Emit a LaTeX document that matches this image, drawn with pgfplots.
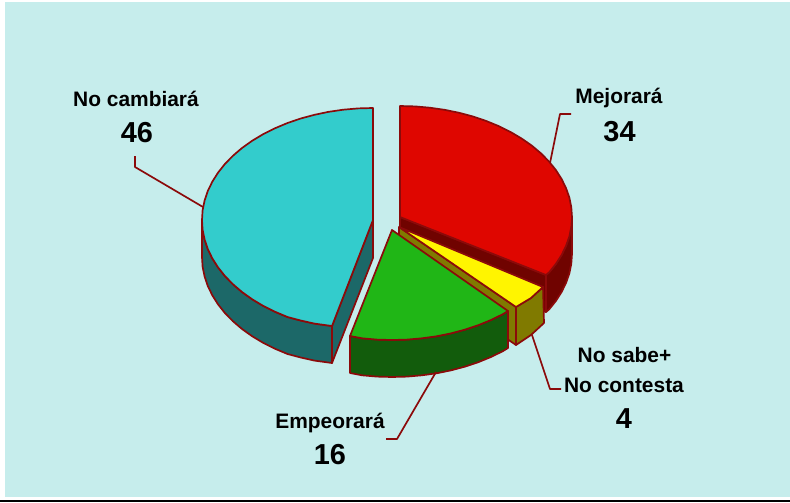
\documentclass[border=0pt]{standalone}
\usepackage{fontspec}
\usepackage{pgfplots}
\pgfplotsset{compat=1.18}
\setmainfont{Liberation Sans}
\definecolor{bg}{HTML}{C6EDEC}
\definecolor{edge}{HTML}{8B0A0A}
\definecolor{cyantop}{HTML}{33CCCC}
\definecolor{cyandark}{HTML}{1C6868}
\definecolor{redtop}{HTML}{DF0600}
\definecolor{reddark}{HTML}{700300}
\definecolor{greentop}{HTML}{20B616}
\definecolor{greendark}{HTML}{125C0C}
\definecolor{yellowtop}{HTML}{FFF500}
\definecolor{olivedark}{HTML}{807A00}
\newcommand{\lab}[1]{{\fontsize{21}{24}\selectfont\bfseries #1}}
\newcommand{\num}[1]{{\fontsize{29}{32}\selectfont\bfseries #1}}
\begin{document}
\begin{tikzpicture}
\begin{axis}[at={(0,0)},anchor=south west,scale only axis,width=790bp,height=502bp,
  xmin=0,xmax=790,ymin=0,ymax=502,y dir=reverse,hide axis,clip=false,
  every axis plot/.append style={line join=round,line width=1.7pt}]
% page
\addplot[fill=white,draw=none] coordinates {(0,0)(790,0)(790,502)(0,502)} -- cycle;
\addplot[fill=bg,draw=none] coordinates {(5,2.5)(790,2.5)(790,497)(5,497)} -- cycle;
\addplot[fill=black,draw=none] coordinates {(0,500)(790,500)(790,502)(0,502)} -- cycle;
% No cambiara: 46
\addplot[fill=cyandark,draw=edge] coordinates {(202,220)(202.6,229.8)(204.6,239.5)(207.8,249)(212.3,258.3)(218,267.3)(224.9,276)(232.9,284.2)(242,292)(252.1,299.2)(263.1,305.8)(274.9,311.7)(287.5,317)(300.7,320.5)(314.5,323.6)(332,326)
  (332,363)(314.5,360.6)(300.7,357.5)(287.5,354)(274.9,348.7)(263.1,342.8)(252.1,336.2)(242,329)(232.9,321.2)(224.9,313)(218,304.3)(212.3,295.3)(207.8,286)(204.6,276.5)(202.6,266.8)(202,257)} -- cycle;
\addplot[fill=cyandark,draw=edge] coordinates {(373,220)(332,326)(332,363)(373,258)} -- cycle;
\addplot[fill=cyantop,draw=edge] coordinates {(373,220)(373,108)(358.1,108.4)(343.3,109.7)(328.7,111.8)(314.5,114.8)(300.7,118.5)(287.5,123)(274.9,128.3)(263.1,134.2)(252.1,140.8)(242,148)(232.9,155.8)(224.9,164)(218,172.7)(212.3,181.7)(207.8,191)(204.6,200.5)(202.6,210.2)(202,220)
  (202.6,229.8)(204.6,239.5)(207.8,249)(212.3,258.3)(218,267.3)(224.9,276)(232.9,284.2)(242,292)(252.1,299.2)(263.1,305.8)(274.9,311.7)(287.5,317)(300.7,320.5)(314.5,323.6)(332,326)} -- cycle;
% Mejorara: 34
\addplot[fill=reddark,draw=edge] coordinates {(400,217)(546,275)(546,312)(400,254)} -- cycle;
\addplot[fill=reddark,draw=edge] coordinates {(572,217)(571.3,226.7)(569.4,236.3)(566.1,245.7)(561.6,255)(555.9,263.9)(549,272.5)(546,275)(546,312)(549,309.5)(555.9,300.9)(561.6,292)(566.1,282.7)(569.4,273.3)(571.3,263.7)(572,254)} -- cycle;
\addplot[fill=redtop,draw=edge] coordinates {(400,217)(400,106)(415,106.4)(429.9,107.7)(444.5,109.8)(458.8,112.7)(472.7,116.4)(486,120.9)(498.7,126.1)(510.6,132)(521.6,138.5)(531.8,145.6)(540.9,153.3)(549,161.5)(555.9,170.1)(561.6,179)(566.1,188.3)(569.4,197.7)(571.3,207.3)(572,217)(571.3,226.7)(569.4,236.3)(566.1,245.7)(561.6,255)(555.9,263.9)(549,272.5)(546,275)} -- cycle;
% No sabe: 4
\addplot[fill=olivedark,draw=edge] coordinates {(399,227)(516,307)(516,345)(399,265)} -- cycle;
\addplot[fill=olivedark,draw=edge] coordinates {(516,307)(531,298)(543,287)(544,323)(531,335)(516,345)} -- cycle;
\addplot[fill=yellowtop,draw=edge] coordinates {(399,227)(543,287)(531,298)(516,307)} -- cycle;
% Empeorara: 16
\addplot[fill=greendark,draw=edge] coordinates {(350,336)(362.1,338.3)(377,339.6)(392,340)(407,339.6)(421.9,338.3)(436.5,336.3)(450.8,333.4)(464.7,329.7)(478,325.3)(490.7,320.1)(502.6,314.3)(508,311)
  (508,348)(502.6,351.3)(490.7,357.1)(478,362.3)(464.7,366.7)(450.8,370.4)(436.5,373.3)(421.9,375.3)(407,376.6)(392,377)(377,376.6)(362.1,375.3)(350,373)} -- cycle;
\addplot[fill=greentop,draw=edge] coordinates {(392,230)(350,336)(362.1,338.3)(377,339.6)(392,340)(407,339.6)(421.9,338.3)(436.5,336.3)(450.8,333.4)(464.7,329.7)(478,325.3)(490.7,320.1)(502.6,314.3)(508,311)} -- cycle;
% leaders
\addplot[draw=edge] coordinates {(550,163)(560,114)(571,114)};
\addplot[draw=edge] coordinates {(135,156)(135,167)(203,207)};
\addplot[draw=edge] coordinates {(532,335)(550,389)(561,389)};
\addplot[draw=edge] coordinates {(436,372)(397,439)(386,439)};
% labels
\node[anchor=base,inner sep=0pt] at (axis cs:619,103) {\lab{Mejorará}};
\node[anchor=base,inner sep=0pt] at (axis cs:619.5,141) {\num{34}};
\node[anchor=base,inner sep=0pt] at (axis cs:136,106.7) {\lab{No cambiará}};
\node[anchor=base,inner sep=0pt] at (axis cs:137,142.7) {\num{46}};
\node[anchor=base,inner sep=0pt] at (axis cs:624.5,362) {\lab{No sabe+}};
\node[anchor=base,inner sep=0pt] at (axis cs:624,392) {\lab{No contesta}};
\node[anchor=base,inner sep=0pt] at (axis cs:624,428) {\num{4}};
\node[anchor=base,inner sep=0pt] at (axis cs:330,428) {\lab{Empeorará}};
\node[anchor=base,inner sep=0pt] at (axis cs:330,464) {\num{16}};
\end{axis}
\end{tikzpicture}
\end{document}
